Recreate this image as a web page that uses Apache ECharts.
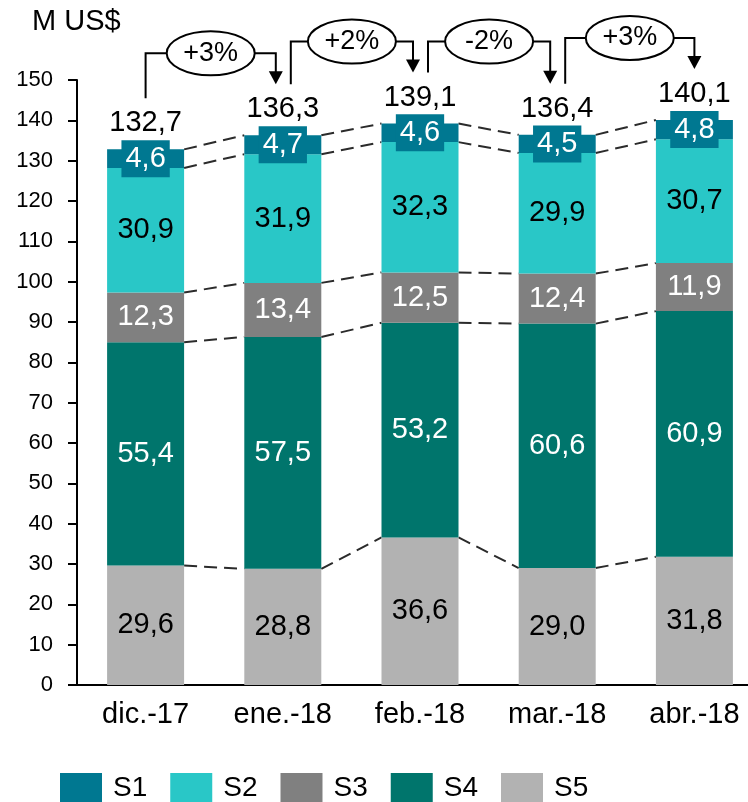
<!DOCTYPE html>
<html>
<head>
<meta charset="utf-8">
<script src="https://cdn.jsdelivr.net/npm/echarts@6/dist/echarts.min.js"></script>
<style>
  html, body { margin: 0; padding: 0; background: #fff; }
  #chart { width: 748px; height: 802px; }
</style>
</head>
<body>
<div id="chart"></div>
<script>
// Monthly amounts in millions of US$, split into five segments (stacked bottom to top: S5..S1)
const categories = ['dic.-17', 'ene.-18', 'feb.-18', 'mar.-18', 'abr.-18'];
const s1 = [4.6, 4.7, 4.6, 4.5, 4.8];
const s2 = [30.9, 31.9, 32.3, 29.9, 30.7];
const s3 = [12.3, 13.4, 12.5, 12.4, 11.9];
const s4 = [55.4, 57.5, 53.2, 60.6, 60.9];
const s5 = [29.6, 28.8, 36.6, 29.0, 31.8];
const totals = [132.7, 136.3, 139.1, 136.4, 140.1];
const growthPct = [3, 2, -2, 3];

const FONT = '"Liberation Sans", Arial, sans-serif';
const BAR_W = 77;
const colors = { S1: '#007891', S2: '#29C7C7', S3: '#808080', S4: '#00756C', S5: '#B2B2B2' };

const fmt = v => v.toFixed(1).replace('.', ',');

// cumulative tops of each segment, bottom to top
const stackOrder = [s5, s4, s3, s2, s1];
const levels = [];
let run = categories.map(() => 0);
stackOrder.forEach(arr => {
  run = run.map((r, i) => r + arr[i]);
  levels.push(run.slice());
});
const stackTop = levels[levels.length - 1];

function barSeries(name, data, labelColor, extraLabel) {
  return {
    name, type: 'bar', stack: 'total', data, barWidth: BAR_W,
    itemStyle: { color: colors[name] },
    label: Object.assign({
      show: true, position: 'inside', color: labelColor,
      fontFamily: FONT, fontSize: 29,
      formatter: p => fmt(p.value)
    }, extraLabel || {})
  };
}

const chart = echarts.init(document.getElementById('chart'), null, { renderer: 'canvas' });

chart.setOption({
  animation: false,
  title: {
    text: 'M US$', left: 32, top: 7, padding: 0,
    textStyle: { fontFamily: FONT, fontSize: 29, fontWeight: 'normal', color: '#000' }
  },
  legend: {
    data: ['S1', 'S2', 'S3', 'S4', 'S5'],
    left: 60, top: 773, padding: 0,
    icon: 'rect', itemWidth: 42, itemHeight: 30, itemGap: 23,
    textStyle: { fontFamily: FONT, fontSize: 28, color: '#000', padding: [0, 0, 0, 6] },
    selectedMode: false
  },
  // plot area runs a little past the right edge of the page
  grid: { left: 77, width: 686, top: 80, bottom: 117, containLabel: false, outerBoundsMode: 'none' },
  xAxis: {
    type: 'category', data: categories, boundaryGap: true,
    axisLine: { lineStyle: { color: '#000', width: 2 } },
    axisTick: { show: false },
    axisLabel: { fontFamily: FONT, fontSize: 29, color: '#000', margin: 15 }
  },
  yAxis: {
    type: 'value', min: 0, max: 150, interval: 10,
    axisLine: { show: true, lineStyle: { color: '#000', width: 2 } },
    axisTick: { show: true, length: 9, lineStyle: { color: '#000', width: 2 } },
    splitLine: { show: false },
    axisLabel: { fontFamily: FONT, fontSize: 22, color: '#000', margin: 24 }
  },
  series: [
    barSeries('S5', s5, '#000'),
    barSeries('S4', s4, '#fff'),
    barSeries('S3', s3, '#fff'),
    barSeries('S2', s2, '#000'),
    barSeries('S1', s1, '#fff', { backgroundColor: colors.S1, padding: [4, 4], lineHeight: 29 }),
    {
      // dashed connectors between the segment boundaries of neighbouring bars
      type: 'custom', silent: true, z: 1,
      data: categories.slice(0, -1).map((c, k) => [k, 0]),
      encode: { x: 0, y: 1 },
      renderItem: (params, api) => {
        const k = params.dataIndex;
        const children = levels.map(lv => {
          const a = api.coord([k, lv[k]]);
          const b = api.coord([k + 1, lv[k + 1]]);
          return {
            type: 'line',
            shape: { x1: a[0] + BAR_W / 2, y1: a[1], x2: b[0] - BAR_W / 2, y2: b[1] },
            style: { stroke: '#2b2b2b', lineWidth: 2, lineDash: [13, 7] }
          };
        });
        return { type: 'group', children };
      }
    },
    {
      // total above each bar
      type: 'custom', silent: true, z: 5,
      data: categories.map((c, i) => [i, stackTop[i]]),
      encode: { x: 0, y: 1 },
      renderItem: (params, api) => {
        const i = params.dataIndex;
        const p = api.coord([i, stackTop[i]]);
        return {
          type: 'text', x: p[0], y: p[1] - 26,
          style: { text: fmt(totals[i]), fill: '#000', font: '29px ' + FONT, align: 'center', verticalAlign: 'middle' }
        };
      }
    },
    {
      // month-over-month change brackets
      type: 'custom', silent: true, z: 6,
      data: growthPct.map((g, k) => [k, 0]),
      encode: { x: 0, y: 1 },
      renderItem: (params, api) => {
        const k = params.dataIndex;
        const n = categories.length;
        const a = api.coord([k, stackTop[k]]);
        const b = api.coord([k + 1, stackTop[k + 1]]);
        const sx = a[0] + (k > 0 ? 8 : 0);
        const ex = b[0] - (k + 1 < n - 1 ? 7 : 0);
        const sy = a[1] - 51;
        const ey = b[1] - 51;
        const hy = Math.min(sy, ey) - 31;
        const cx = (sx + ex) / 2;
        const rx = 44, ry = 22;
        const g = growthPct[k];
        const txt = (g > 0 ? '+' : '') + g + '%';
        const stroke = { stroke: '#000', lineWidth: 2, fill: null };
        return {
          type: 'group',
          children: [
            { type: 'polyline', shape: { points: [[sx, sy], [sx, hy], [cx - rx, hy]] }, style: stroke },
            { type: 'polyline', shape: { points: [[cx + rx, hy], [ex, hy], [ex, ey - 12]] }, style: stroke },
            { type: 'polygon', shape: { points: [[ex - 7, ey - 13], [ex + 7, ey - 13], [ex, ey]] }, style: { fill: '#000' } },
            { type: 'ellipse', shape: { cx: cx, cy: hy, rx: rx, ry: ry }, style: { fill: '#fff', stroke: '#000', lineWidth: 2 } },
            { type: 'text', x: cx, y: hy, style: { text: txt, fill: '#000', font: '27px ' + FONT, align: 'center', verticalAlign: 'middle' } }
          ]
        };
      }
    }
  ]
});
</script>
</body>
</html>
